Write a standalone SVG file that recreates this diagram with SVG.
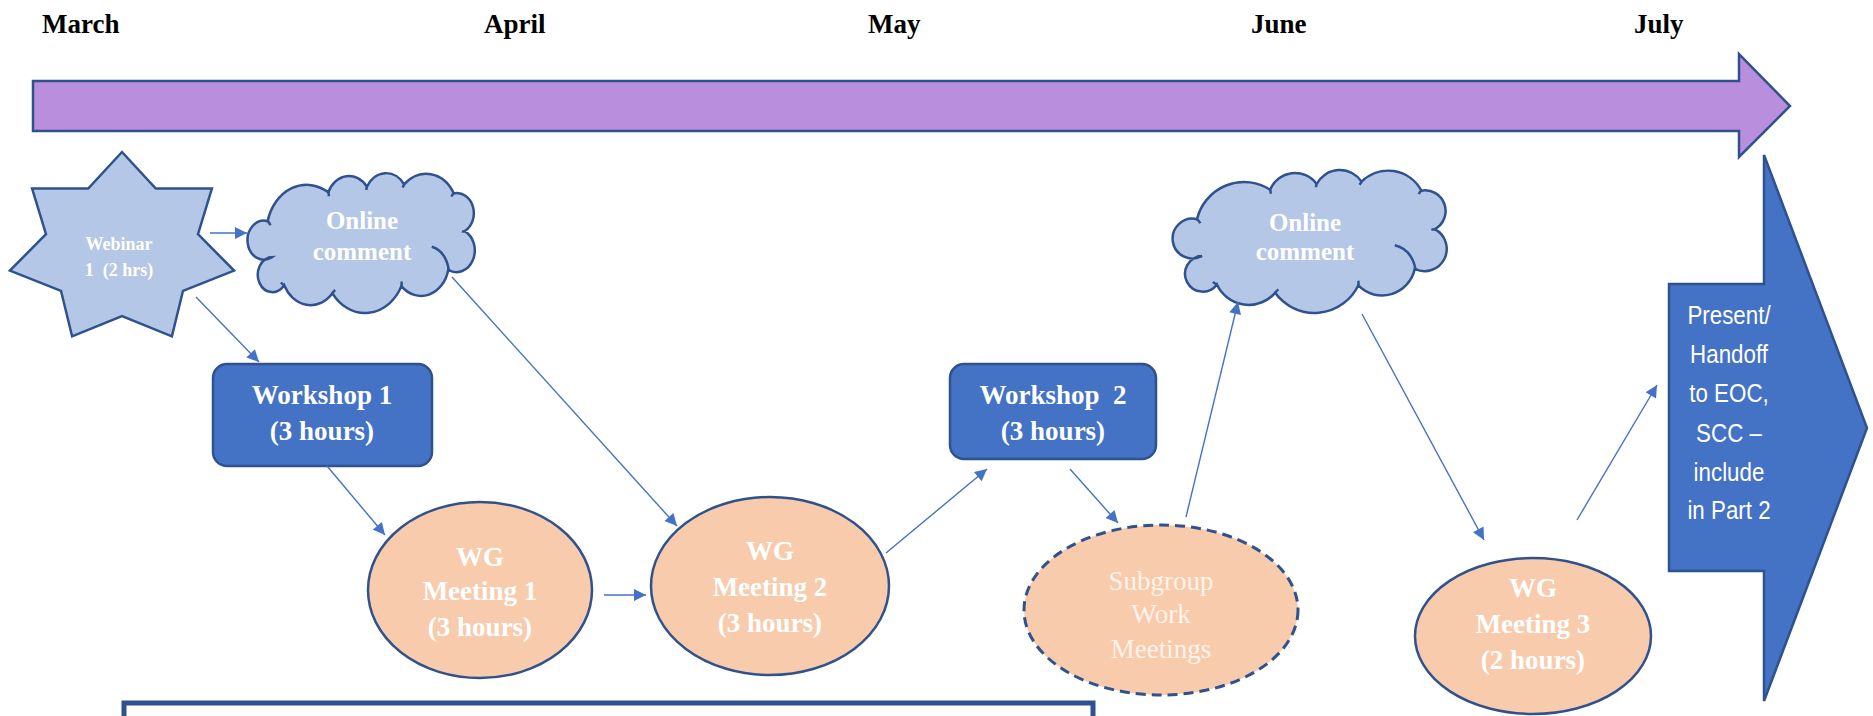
<svg xmlns="http://www.w3.org/2000/svg" xmlns:xlink="http://www.w3.org/1999/xlink" width="1873" height="716" viewBox="0 0 1873 716">
<style>
.month{font-family:"Liberation Serif",serif;font-weight:bold;font-size:27px;fill:#000}
.lbl{font-family:"Liberation Serif",serif;font-weight:bold;font-size:27px;fill:#fff;text-anchor:middle}
.small{font-family:"Liberation Serif",serif;font-weight:bold;font-size:18px;fill:#fff;text-anchor:middle}
.cloudt{font-family:"Liberation Serif",serif;font-weight:bold;font-size:25px;fill:#fff;text-anchor:middle}
.sub{font-family:"Liberation Serif",serif;font-size:27px;fill:#FFF3EA;text-anchor:middle}
.sans{font-family:"Liberation Sans",Arial,sans-serif;font-size:26px;fill:#fff;text-anchor:middle}
.shape{stroke:#2F528F;stroke-width:2.5}
.lightblue{fill:#B4C7E7}
.peach{fill:#F8CBAD}
.blue{fill:#4472C4}
.conn{stroke:#4472C4;stroke-width:1.4;fill:none;marker-end:url(#ah)}
.cl{fill:#B4C7E7;stroke:#2F528F;stroke-width:2.5;vector-effect:non-scaling-stroke}
.tick{fill:none;stroke:#2F528F;stroke-width:2.5;vector-effect:non-scaling-stroke}
</style>
<defs>
<marker id="ah" viewBox="0 0 10 10" refX="10" refY="5" markerUnits="userSpaceOnUse" markerWidth="14" markerHeight="12" orient="auto">
<path d="M0,0 L10,5 L0,10 z" fill="#4472C4"/>
</marker>
<g id="cloud">
<path class="cl" d="M110,180 A145.6,145.6 0 0 1 330,92 A81,81 0 0 1 470,75 A79,79 0 0 1 605,68 A113.7,113.7 0 0 1 785,95 A61.6,61.6 0 0 1 825,210 A66,66 0 0 1 765,328 A100.6,100.6 0 0 1 595,378 A146.7,146.7 0 0 1 345,400 A105.6,105.6 0 0 1 170,375 A53.2,53.2 0 1 1 125,290 A59.5,59.5 0 1 1 110,180 Z"/>
<path class="tick" d="M110,180 q6,4 10,12 M330,92 q2,6 2,12 M470,75 q-2,4 -2,10 M605,68 q-2,4 -6,9 M785,95 q-6,4 -8,10 M825,210 q-6,2 -10,0 M595,378 q2,-6 0,-14 M345,400 q4,-6 10,-10 M170,375 q-6,-2 -12,-8 M125,290 q-8,2 -14,0 M705,258 q50,12 62,70"/>
</g>
</defs>
<rect width="1873" height="716" fill="#fff"/>

<g id="months">
<text class="month" x="42" y="33">March</text>
<text class="month" x="484" y="33">April</text>
<text class="month" x="868" y="33">May</text>
<text class="month" x="1251" y="33">June</text>
<text class="month" x="1634" y="33">July</text>
</g>

<g id="timeline">
<path class="shape" fill="#B98EDC" d="M33,81 L1739,81 L1739,54 L1790,106 L1739,157 L1739,131 L33,131 Z"/>
</g>

<g id="webinar">
<path class="shape lightblue" d="M122,152 L155.8,188.6 L211.9,188.5 L198,234.1 L234.1,270.6 L183,290.8 L171.9,336.4 L122,316 L72.1,336.4 L61,290.8 L9.9,270.6 L46,234.1 L32.1,188.5 L88.2,188.6 Z"/>
<text class="small" x="119" y="250">Webinar</text>
<text class="small" x="119" y="276" xml:space="preserve">1  (2 hrs)</text>
</g>

<g id="cloud1">
<use xlink:href="#cloud" href="#cloud" transform="translate(237.35,162.2) scale(0.2757,0.3279)"/>
<text class="cloudt" x="362" y="229">Online</text>
<text class="cloudt" x="362" y="260">comment</text>
</g>

<g id="workshop1">
<rect class="shape blue" x="213" y="364" width="219" height="102" rx="14"/>
<text class="lbl" x="322" y="404">Workshop 1</text>
<text class="lbl" x="322" y="440">(3 hours)</text>
</g>

<g id="wg1">
<ellipse class="shape peach" cx="480" cy="590" rx="112" ry="88"/>
<text class="lbl" x="480" y="566">WG</text>
<text class="lbl" x="480" y="600">Meeting 1</text>
<text class="lbl" x="480" y="636">(3 hours)</text>
</g>

<g id="wg2">
<ellipse class="shape peach" cx="770" cy="586" rx="119" ry="89"/>
<text class="lbl" x="770" y="560">WG</text>
<text class="lbl" x="770" y="596">Meeting 2</text>
<text class="lbl" x="770" y="632">(3 hours)</text>
</g>

<g id="workshop2">
<rect class="shape blue" x="950" y="364" width="206" height="95" rx="14"/>
<text class="lbl" x="1053" y="404" xml:space="preserve">Workshop  2</text>
<text class="lbl" x="1053" y="440">(3 hours)</text>
</g>

<g id="subgroup">
<ellipse class="peach" cx="1161" cy="610" rx="137" ry="85" stroke="#2F528F" stroke-width="3" stroke-dasharray="10 6"/>
<text class="sub" x="1161" y="590">Subgroup</text>
<text class="sub" x="1161" y="623">Work</text>
<text class="sub" x="1161" y="658">Meetings</text>
</g>

<g id="cloud2">
<use xlink:href="#cloud" href="#cloud" transform="translate(1160.4,158.9) scale(0.3325,0.3349)"/>
<text class="cloudt" x="1305" y="231">Online</text>
<text class="cloudt" x="1305" y="260">comment</text>
</g>

<g id="wg3">
<ellipse class="shape peach" cx="1533" cy="636" rx="118" ry="78"/>
<text class="lbl" x="1533" y="597">WG</text>
<text class="lbl" x="1533" y="633">Meeting 3</text>
<text class="lbl" x="1533" y="669">(2 hours)</text>
</g>

<g id="present">
<path class="shape blue" d="M1669,284 L1764,284 L1764,155 L1867,428 L1764,701 L1764,571 L1669,571 Z"/>
<g transform="translate(1729,0) scale(0.86,1)">
<text class="sans" x="0" y="324">Present/</text>
<text class="sans" x="0" y="363">Handoff</text>
<text class="sans" x="0" y="402">to EOC,</text>
<text class="sans" x="0" y="442">SCC –</text>
<text class="sans" x="0" y="481">include</text>
<text class="sans" x="0" y="519">in Part 2</text>
</g>
</g>

<g id="bottombox">
<rect x="124" y="703" width="969" height="50" fill="#fff" stroke="#2F528F" stroke-width="5"/>
</g>

<g id="connectors">
<line class="conn" x1="210" y1="233" x2="247" y2="233"/>
<line class="conn" x1="196" y1="297" x2="259" y2="362"/>
<line class="conn" x1="452" y1="277" x2="677" y2="526"/>
<line class="conn" x1="327" y1="466" x2="385" y2="535"/>
<line class="conn" x1="604" y1="595" x2="646" y2="595"/>
<line class="conn" x1="886" y1="553" x2="987" y2="469"/>
<line class="conn" x1="1070" y1="469" x2="1118" y2="523"/>
<line class="conn" x1="1186" y1="517" x2="1238" y2="302"/>
<line class="conn" x1="1362" y1="314" x2="1484" y2="540"/>
<line class="conn" x1="1577" y1="520" x2="1657" y2="385"/>
</g>
</svg>
